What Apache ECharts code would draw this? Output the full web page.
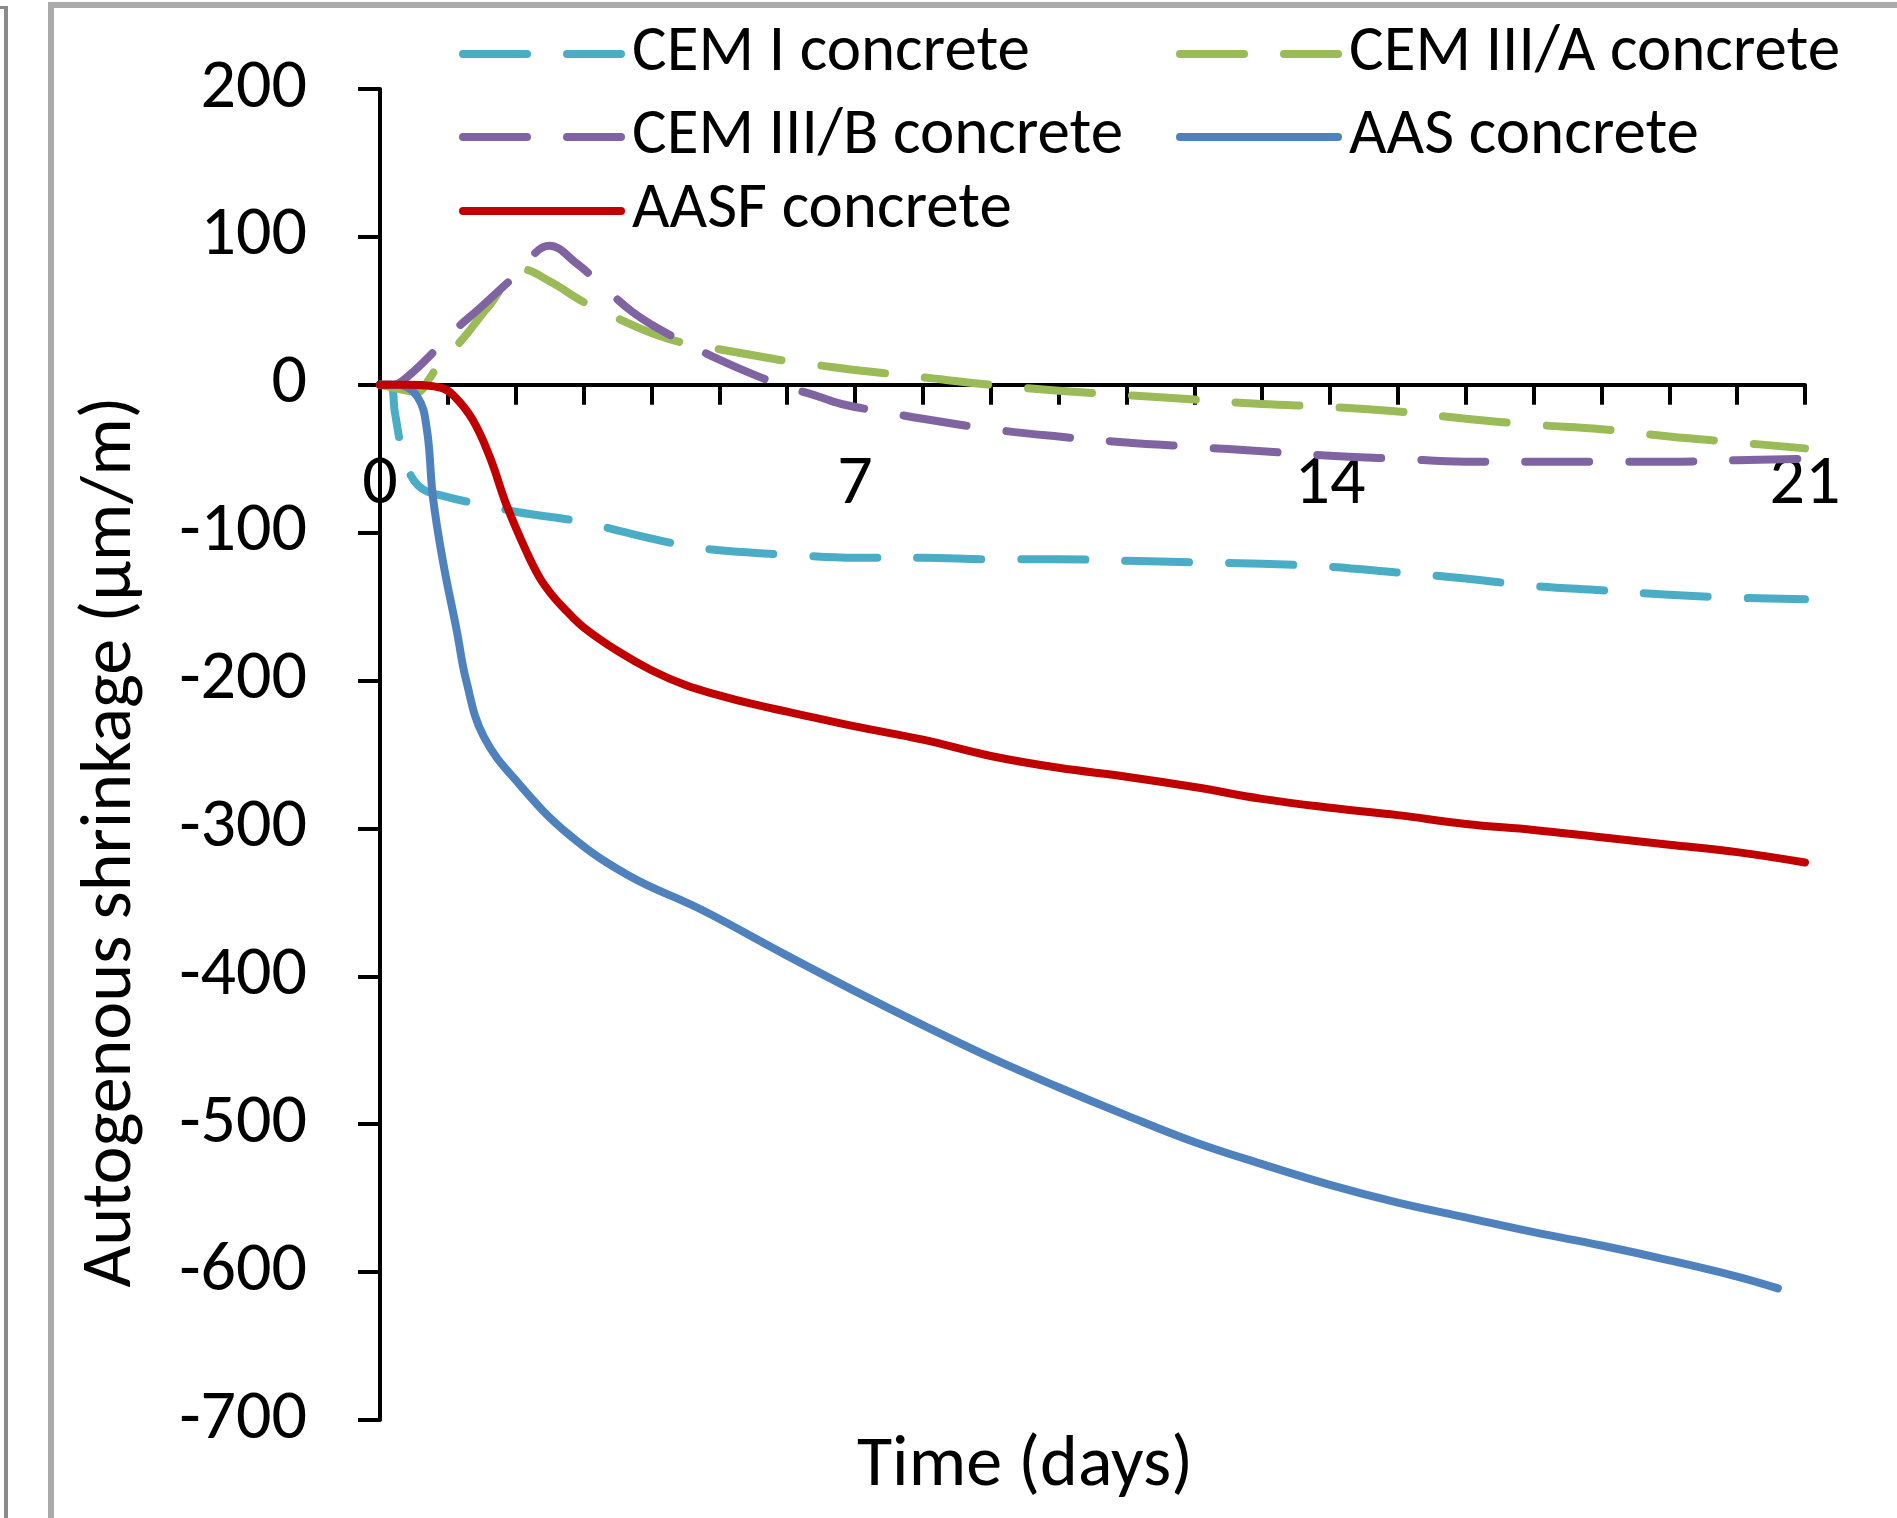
<!DOCTYPE html>
<html>
<head>
<meta charset="utf-8">
<script src="https://cdn.jsdelivr.net/npm/echarts@6/dist/echarts.min.js"></script>
<style>
  html, body { margin: 0; padding: 0; background: #fff; }
  #chart { width: 1897px; height: 1518px; }
</style>
</head>
<body>
<div id="chart"></div>
<script>
// series names
const seriesNames = ['CEM I concrete', 'CEM III/A concrete', 'CEM III/B concrete', 'AAS concrete', 'AASF concrete'];

// CEM I (days / µm/m)
const cemIDays = [0, 0.15, 0.22, 0.34, 0.56, 1.0, 1.52, 2.02, 3.02, 3.54, 4.52, 5.04, 6.04, 7, 8, 9, 10, 11, 12, 13, 14, 15, 16, 17, 18, 19, 20, 21];
const cemIVals = [0, 0, -19, -46, -68, -76, -81, -86, -93, -99, -109, -112, -115, -117, -117, -118, -118, -119, -120, -121, -123, -127, -131, -136, -139, -142, -144, -145];

// CEM III/A
const cemIIIADays = [0, 0.3, 0.54, 0.74, 0.88, 1.2, 1.6, 2.1, 2.5, 3.0, 3.5, 4.0, 4.5, 5.0, 5.5, 6.0, 6.5, 7, 8, 9, 10, 11, 12, 13, 14, 15, 16, 17, 18, 19, 20, 21];
const cemIIIAVals = [0, -3, -5, 5, 15, 30, 53, 78, 70, 56, 45, 35, 28, 24, 20, 16, 13, 10, 5, 0, -4, -7, -10, -13, -15, -18, -23, -27, -30, -35, -39, -43];

// CEM III/B
const cemIIIBDays = [0, 0.2, 0.34, 0.7, 1.03, 1.5, 2.0, 2.5, 2.9, 3.3, 3.7, 4.1, 4.6, 5.0, 5.5, 5.9, 6.4, 6.8, 7.5, 8, 9, 10, 11, 12, 13, 14, 15, 16, 17, 18, 19, 20, 21];
const cemIIIBVals = [0, 0, 3, 18, 34, 53, 74, 94, 82, 66, 50, 38, 26, 17, 7, 0, -7, -13, -19, -23, -30, -35, -39, -42, -45, -48, -50, -52, -52, -52, -52, -51, -50];

// AAS
const aasDays = [0, 0.25, 0.55, 0.69, 0.78, 0.93, 1.13, 1.27, 1.53, 2.07, 2.78, 3.67, 4.74, 6, 7, 8, 9, 10, 11, 12, 13, 14, 15, 16, 17, 18, 19, 20, 20.6];
const aasVals = [0, 0, -8, -30, -76, -120, -166, -200, -238, -271, -304, -332, -355, -386, -410, -433, -455, -475, -494, -512, -527, -541, -553, -563, -573, -582, -592, -603, -611];

// AASF
const aasfDays = [0, 0.4, 0.9, 1.1, 1.37, 1.62, 1.87, 2.17, 2.36, 2.55, 2.75, 3.0, 3.5, 4.0, 4.5, 5.0, 5.5, 6, 7, 8, 9, 10, 11, 12, 13, 14, 15, 16, 17, 18, 19, 20, 21];
const aasfVals = [0, 0, -2, -8, -24, -49, -82, -114, -131, -143, -153, -164, -180, -193, -203, -210, -216, -221, -231, -240, -251, -259, -265, -272, -280, -286, -291, -297, -301, -306, -311, -316, -323];

// axis ticks
const xTickLabels = [0, 7, 14, 21];
const yTicks = [200, 100, 0, -100, -200, -300, -400, -500, -600, -700];

const colors = ['#4BACC6', '#9BBB59', '#8064A2', '#4F81BD', '#C00000'];
const dashed = [true, true, true, false, false];
const allDays = [cemIDays, cemIIIADays, cemIIIBDays, aasDays, aasfDays];
const allVals = [cemIVals, cemIIIAVals, cemIIIBVals, aasVals, aasfVals];

const font = 'Carlito, Lato, sans-serif';
const dash = [64, 40];

function zip(xs, ys) {
    return xs.map((x, i) => [x, ys[i]]);
}

var chart = echarts.init(document.getElementById('chart'));

let series = seriesNames.map((name, i) => ({
    name: name,
    type: 'line',
    data: zip(allDays[i], allVals[i]),
    symbol: 'none',
    showSymbol: false,
    smooth: 0.4,
    z: 2 + i,
    lineStyle: {
        color: colors[i],
        width: 8,
        type: dashed[i] ? dash : 'solid',
        cap: 'round',
        join: 'round'
    },
    itemStyle: { color: colors[i] }
}));

// legend slots: [left, top]
const legendPos = [[459, 18], [1176, 18], [459, 101], [1176, 101], [459, 175]];
let legends = seriesNames.map((name, i) => ({
    data: [name],
    left: legendPos[i][0],
    top: legendPos[i][1],
    itemWidth: 158,
    itemHeight: 20,
    padding: 0,
    itemStyle: { opacity: 0 },
    lineStyle: {
        color: colors[i],
        width: 8,
        type: dashed[i] ? dash : 'solid',
        cap: 'round'
    },
    textStyle: {
        fontFamily: font,
        fontSize: 65,
        lineHeight: 72,
        color: '#000',
        padding: [0, 0, 0, 6]
    }
}));

// y of value 0 inside the plot (grid top 89, 1331 px for 900 units)
const zeroBottom = 1518 - (89 + 1331 * 200 / 900);

let option = {
    backgroundColor: '#fff',
    animation: false,
    grid: [
        { left: 380, right: 92, top: 89, bottom: 98, containLabel: false, outerBoundsMode: 'none' },
        // helper grid whose bottom edge sits on the zero line, carries the x labels
        { left: 380, right: 92, top: 89, bottom: zeroBottom, containLabel: false, outerBoundsMode: 'none' }
    ],
    legend: legends,
    xAxis: [{
        type: 'value',
        gridIndex: 0,
        min: 0,
        max: 21,
        interval: 1,
        splitLine: { show: false },
        axisLine: { onZero: true, lineStyle: { color: '#000', width: 4 } },
        axisTick: { show: true, inside: false, length: 20, lineStyle: { color: '#000', width: 4 } },
        axisLabel: { show: false }
    }, {
        type: 'value',
        gridIndex: 1,
        min: 0,
        max: 21,
        interval: 1,
        splitLine: { show: false },
        axisLine: { show: false },
        axisTick: { show: false },
        axisLabel: {
            margin: 66,
            fontFamily: font,
            fontSize: 70,
            color: '#000',
            formatter: v => (xTickLabels.indexOf(v) >= 0 ? String(v) : '')
        }
    }],
    yAxis: [{
        type: 'value',
        gridIndex: 0,
        min: -700,
        max: 200,
        interval: 100,
        splitLine: { show: false },
        axisLine: { lineStyle: { color: '#000', width: 4 } },
        axisTick: { show: true, inside: false, length: 22, lineStyle: { color: '#000', width: 4 } },
        axisLabel: {
            margin: 73,
            fontFamily: font,
            fontSize: 70,
            color: '#000',
            formatter: v => (yTicks.indexOf(v) >= 0 ? String(v) : '')
        }
    }, {
        type: 'value',
        gridIndex: 1,
        min: 0,
        max: 200,
        show: false
    }],
    graphic: [
        // picture frame
        { type: 'rect', shape: { x: 4, y: 6, width: 4, height: 1512 }, style: { fill: '#8a8a8a' } },
        { type: 'rect', shape: { x: 0, y: 6, width: 8, height: 3 }, style: { fill: '#8a8a8a' } },
        { type: 'rect', shape: { x: 48, y: 2, width: 6, height: 1516 }, style: { fill: '#aaaaaa' } },
        { type: 'rect', shape: { x: 48, y: 2, width: 1849, height: 6 }, style: { fill: '#aaaaaa' } },
        // axis titles
        {
            type: 'text', x: 112, y: 842, rotation: Math.PI / 2,
            style: { text: 'Autogenous shrinkage (µm/m)', fontFamily: font, fontSize: 72, fill: '#000', align: 'center', verticalAlign: 'middle' }
        },
        {
            type: 'text', x: 1025, y: 1467,
            style: { text: 'Time (days)', fontFamily: font, fontSize: 72, fill: '#000', align: 'center', verticalAlign: 'middle' }
        }
    ],
    series: series
};

chart.setOption(option);
</script>
</body>
</html>
